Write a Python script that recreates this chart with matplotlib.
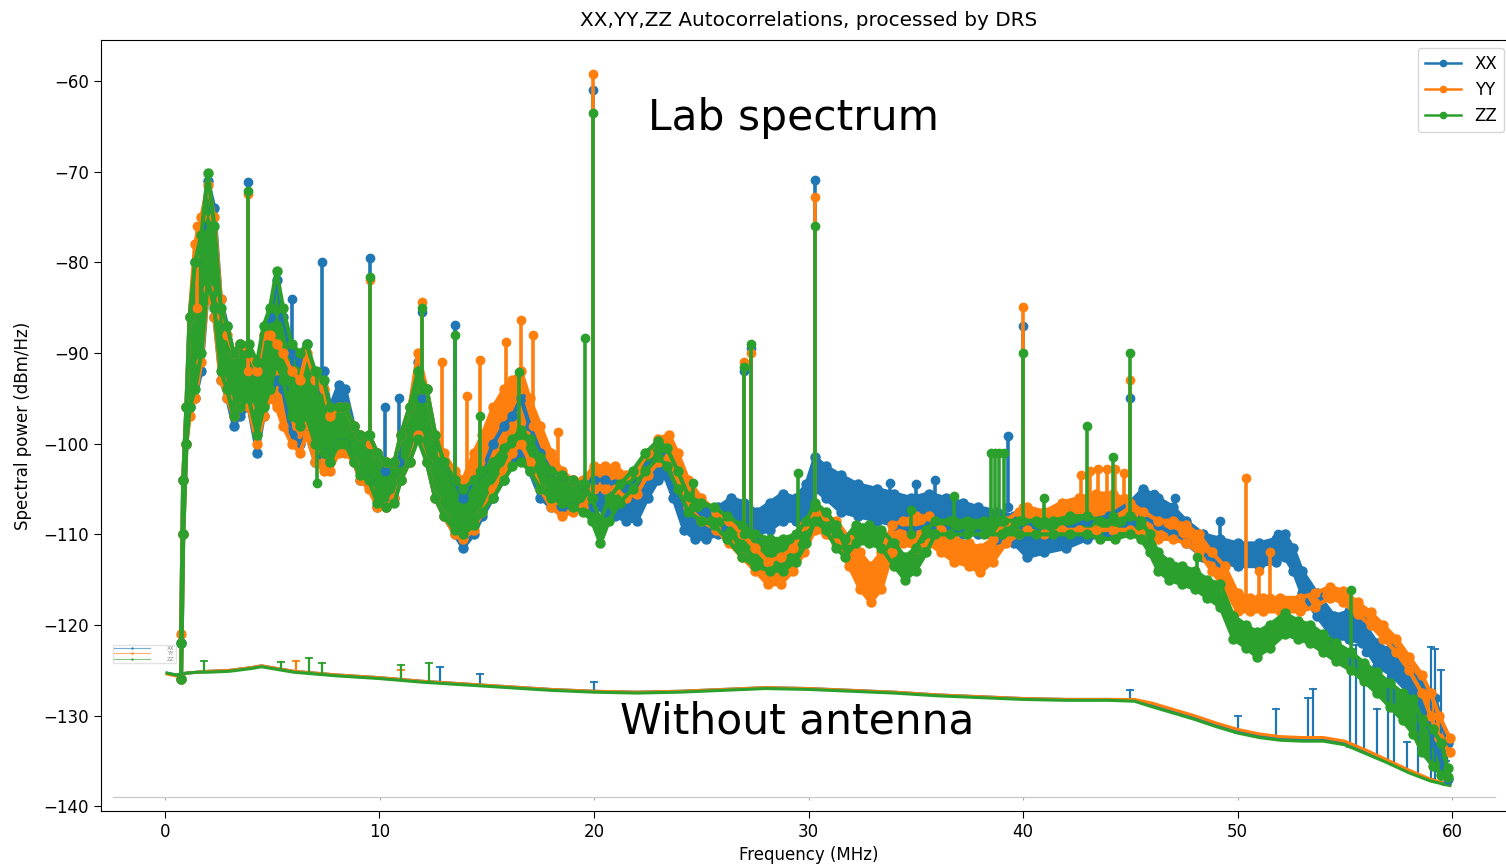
import numpy as np
import matplotlib
matplotlib.use("Agg")
import matplotlib.pyplot as plt
from matplotlib.lines import Line2D

labels = ['XX', 'YY', 'ZZ']
colors = ['#1f77b4', '#ff7f0e', '#2ca02c']

# lab spectrum, noise band per polarisation: freq (MHz), lower edge, upper edge (dBm/Hz)
xx_band = np.array([
    (0.75, -126, -122), (0.85, -110, -104), (1.0, -100, -96), (1.15, -96, -86),
    (1.4, -95, -80), (1.7, -92, -76), (2.0, -83, -71), (2.3, -86, -74),
    (2.6, -93, -84), (2.9, -95, -87), (3.2, -98, -90), (3.5, -97, -89),
    (3.9, -96, -90), (4.3, -101, -92), (4.6, -97, -88), (4.9, -95, -86),
    (5.2, -93, -82), (5.5, -94, -86), (5.9, -99, -90), (6.3, -100, -91),
    (6.6, -99, -89), (7.0, -102, -93), (7.4, -101, -92), (7.7, -102, -96),
    (8.1, -100, -93.5), (8.4, -100, -94), (8.8, -102, -98), (9.1, -104, -99),
    (9.5, -104, -99), (9.9, -107, -101), (10.3, -107, -102), (10.7, -106, -102),
    (11.0, -104, -99), (11.4, -102, -96), (11.8, -99, -91), (12.2, -102, -94),
    (12.6, -106, -99), (13.0, -108, -102), (13.5, -110, -104), (13.9, -111.5, -106),
    (14.4, -110, -104), (14.8, -108, -103), (15.3, -106, -100), (15.8, -104, -98),
    (16.2, -102, -97), (16.6, -101, -95), (17.0, -103, -98), (17.5, -106, -101),
    (18.0, -107, -103), (18.5, -107, -103.5), (19.0, -107, -104), (19.5, -107, -104.5),
    (20.0, -107, -104), (20.5, -107.5, -104), (21.0, -108, -104.5), (21.5, -108.5, -105),
    (22.0, -108.5, -104.5), (22.5, -106, -102.5), (23.0, -104, -101.5), (23.3, -103.5, -101.5),
    (23.7, -106, -103), (24.2, -109.5, -106), (24.7, -110.5, -108), (25.2, -110.5, -107.5),
    (25.8, -110, -107), (26.4, -108.5, -106), (27.0, -109.5, -106.5), (27.6, -110, -107.5),
    (28.2, -109.5, -106.5), (28.8, -108.5, -105.5), (29.4, -108.5, -106), (29.9, -108, -104.5),
    (30.3, -105, -101.5), (30.8, -106, -102.5), (31.5, -107.5, -103.5), (32.3, -108, -104.5),
    (33.2, -108.5, -105), (34.0, -109, -105.5), (34.8, -109.5, -106), (35.6, -109, -105.5),
    (36.4, -109.5, -106), (37.2, -110, -106.5), (37.9, -110, -107), (38.8, -110.5, -107.5),
    (39.6, -111, -108), (40.2, -112.5, -109), (41.0, -112, -110), (42.0, -111.5, -109.5),
    (43.0, -110.5, -108.5), (44.0, -110, -108), (45.0, -109, -106.5), (45.6, -108, -105),
    (46.3, -109, -106), (47.0, -110, -107), (47.6, -111, -108.5), (48.4, -112.5, -110),
    (49.2, -113, -110.5), (50.0, -113.5, -111), (51.0, -113.5, -111), (51.8, -113, -110.5),
    (52.2, -112.5, -110), (52.6, -114, -111.5), (53.0, -116.5, -114), (53.7, -119, -116.5),
    (54.5, -121.5, -119), (55.2, -121.5, -118.5), (55.8, -122, -119.5), (56.5, -124.5, -122),
    (57.2, -125.5, -123), (58.0, -127.5, -125), (58.6, -129.5, -126.5), (59.2, -133, -128),
    (59.8, -137, -133),
])
yy_band = np.array([
    (0.75, -126, -121), (0.85, -110, -104), (1.0, -100, -96), (1.15, -97, -86),
    (1.4, -95, -78), (1.7, -91, -75), (2.0, -83, -71.5), (2.3, -86, -75),
    (2.6, -93, -84), (2.9, -95, -88), (3.2, -97, -90), (3.5, -96, -89),
    (3.9, -96, -90), (4.3, -100, -92), (4.6, -97, -88), (4.9, -95, -88),
    (5.2, -96, -89), (5.5, -98, -90), (5.9, -100, -92), (6.3, -101, -93),
    (6.6, -99, -90), (7.0, -102, -93), (7.4, -103, -94), (7.7, -103, -97),
    (8.1, -101, -96), (8.4, -101, -96), (8.8, -102, -98), (9.1, -104, -99),
    (9.5, -105, -99), (9.9, -107, -101), (10.3, -107, -102), (10.7, -106, -102),
    (11.0, -104, -99), (11.4, -102, -96), (11.8, -99, -90), (12.2, -102, -94),
    (12.6, -106, -99), (13.0, -108, -101), (13.5, -110, -103), (13.9, -110.5, -104),
    (14.4, -109.5, -101), (14.8, -107.5, -99), (15.3, -105, -96), (15.8, -103, -94),
    (16.2, -101, -93), (16.6, -100, -92), (17.0, -102, -95), (17.5, -105, -98),
    (18.0, -107, -101), (18.5, -108, -103), (19.0, -107.5, -104), (19.5, -107, -104),
    (20.0, -105, -102.5), (20.5, -105, -102.5), (21.0, -105, -102.5), (21.5, -106, -103.5),
    (22.0, -105.5, -103), (22.5, -103.5, -101), (23.0, -102, -99.5), (23.5, -101.5, -99),
    (23.9, -104, -101), (24.4, -107, -104), (25.0, -108.5, -106), (25.7, -109.5, -107.5),
    (26.3, -111, -108.5), (26.9, -112.5, -110), (27.5, -114, -111.5), (28.1, -115.5, -113),
    (28.7, -115.5, -112.5), (29.3, -114, -111.5), (29.8, -112, -109), (30.3, -109.5, -107.5),
    (30.8, -110, -108), (31.3, -111, -108.5), (31.9, -113.5, -110.5), (32.4, -116, -112),
    (32.9, -117.5, -113.5), (33.4, -116, -112), (33.9, -112, -109), (34.4, -111, -108.5),
    (35.0, -111.5, -108), (35.6, -111, -108), (36.2, -112, -109.5), (36.8, -113, -110.5),
    (37.5, -113.5, -111), (38.0, -114.2, -111.5), (38.6, -113, -110.5), (39.2, -111, -108.5),
    (39.8, -110, -107.5), (40.2, -109.5, -107), (41.0, -110, -107.5), (41.8, -109.5, -106.5),
    (42.6, -109.5, -106), (43.4, -109.5, -105.5), (44.2, -109.5, -105.5), (45.0, -109.5, -106.5),
    (45.6, -110, -107.5), (46.3, -110.5, -108.5), (47.0, -110.5, -108.5), (47.6, -111, -109),
    (48.2, -112, -110), (48.8, -114, -112), (49.4, -116, -113.5), (50.0, -118.5, -116.5),
    (50.6, -118.5, -117), (51.2, -118.5, -117), (52.0, -118.5, -117), (52.9, -118.5, -117),
    (53.6, -118, -116.5), (54.3, -117, -115.8), (54.9, -117.5, -116.2), (55.6, -118.8, -117.5),
    (56.2, -120, -118.6), (56.8, -121.5, -120), (57.4, -123, -121.5), (58.0, -125, -123.5),
    (58.6, -127.5, -125.5), (59.0, -130, -127.5), (59.4, -132.5, -130), (59.9, -134, -132.5),
])
zz_band = np.array([
    (0.75, -126, -122), (0.85, -110, -104), (1.0, -100, -96), (1.15, -96, -86),
    (1.4, -94, -80), (1.7, -90, -77), (2.0, -82, -70.2), (2.3, -85, -76),
    (2.6, -92, -85), (2.9, -94, -87), (3.2, -97, -90), (3.5, -96, -89),
    (3.9, -95, -89), (4.3, -99, -91), (4.6, -96, -87), (4.9, -94, -85),
    (5.2, -91, -81), (5.5, -93, -85), (5.9, -97, -89), (6.3, -98, -90),
    (6.6, -97, -89), (7.0, -100, -92), (7.4, -101, -93), (7.7, -102, -96),
    (8.1, -100, -96), (8.4, -100, -96), (8.8, -102, -98), (9.1, -103.5, -99),
    (9.5, -104, -99), (9.9, -106.5, -101), (10.3, -107, -102), (10.7, -106.5, -102),
    (11.0, -104, -99), (11.4, -102, -96), (11.8, -99.5, -92), (12.2, -102, -94),
    (12.6, -106, -99), (13.0, -108, -102), (13.5, -109.5, -104), (13.9, -110, -105),
    (14.4, -109, -104), (14.8, -107.5, -103), (15.3, -106, -102), (15.8, -104, -100.5),
    (16.2, -102.5, -99.5), (16.6, -102, -98.5), (17.0, -103, -99.5), (17.5, -105, -101.5),
    (18.0, -106, -103), (18.5, -106.5, -103.5), (19.0, -107, -104), (19.5, -107.5, -104.5),
    (19.9, -108.5, -106), (20.3, -111, -108.5), (20.7, -108.5, -106), (21.2, -106.5, -104.5),
    (21.8, -105, -103), (22.4, -103, -101), (23.0, -101.5, -99.7), (23.4, -102.5, -100.5),
    (23.9, -105, -103), (24.4, -107.5, -105.8), (25.0, -108.5, -106.5), (25.6, -109, -107),
    (26.2, -110.5, -108), (26.9, -112.5, -109), (27.5, -113.5, -110), (28.2, -114, -110.5),
    (28.8, -114, -110.5), (29.4, -113, -110), (29.9, -111, -108.5), (30.3, -108.5, -106.5),
    (30.8, -109.5, -107.5), (31.3, -111.5, -109), (31.7, -112.5, -110.5), (32.2, -111, -109),
    (32.8, -111, -109), (33.4, -111.5, -109.5), (34.0, -113.5, -111), (34.5, -115, -112.5),
    (35.0, -114, -111.5), (35.5, -112, -109.5), (35.9, -110, -108.5), (36.6, -110, -108.5),
    (37.4, -110, -108.5), (38.2, -110, -108.5), (39.0, -110, -108.5), (39.8, -110, -108.5),
    (40.6, -110, -108.5), (41.4, -110, -108.5), (42.2, -110, -108), (43.0, -110, -108),
    (43.6, -110.5, -108.5), (44.3, -110.5, -108.5), (45.0, -110, -108), (45.5, -110.5, -108.5),
    (45.9, -112, -110), (46.3, -114, -112), (46.8, -115, -113), (47.4, -115.5, -113.5),
    (48.0, -116, -114), (48.6, -117, -115), (49.2, -118, -115.5), (49.8, -121.5, -119),
    (50.4, -122.5, -120), (50.9, -123.5, -120.8), (51.5, -122.5, -120), (52.2, -121, -118.7),
    (52.8, -121.5, -119.5), (53.4, -122, -120), (54.0, -123, -121), (54.6, -124, -122),
    (55.3, -125, -123), (55.9, -126.2, -124.2), (56.5, -127.5, -125.2), (57.1, -129, -126.4),
    (57.7, -130.5, -127.5), (58.2, -132, -128.2), (58.6, -134, -130.4), (59.1, -135.5, -131.5),
    (59.5, -136.5, -133), (59.8, -136.8, -135.8),
])

# narrow RFI lines: freq (MHz), level at the band, peak level
xx_spikes = [
    (3.87, -92, -71.2), (5.9, -92, -84.1), (7.3, -94, -80), (9.55, -100, -79.5),
    (10.26, -103, -96), (10.9, -102, -95), (12.0, -95, -85.5), (13.5, -104, -86.9),
    (19.95, -105, -61), (27.0, -108, -92), (27.3, -108, -89.5), (30.3, -104, -70.9),
    (33.8, -106, -104.3), (35.0, -106, -104.5), (35.9, -106, -104), (39.3, -107, -99.2),
    (40.0, -109, -87), (45.0, -108, -95), (46.1, -107, -105.5), (47.1, -108, -106),
    (49.2, -111, -108.5), (51.9, -112, -110), (56.0, -123, -121.3), (56.5, -124, -123.3),
    (57.1, -124.5, -122.5), (57.7, -126, -125.5),
]
yy_spikes = [
    (1.5, -85, -76), (3.87, -92, -72.5), (9.55, -100, -82), (12.0, -94, -84.4),
    (12.9, -101, -91), (14.1, -104, -94.8), (14.7, -102, -90.8), (15.9, -96, -88.8),
    (16.6, -94, -86.4), (17.15, -98, -88), (18.3, -103, -98.7), (19.95, -103, -59.3),
    (27.0, -110, -91), (27.3, -110, -90), (30.3, -107, -72.8), (40.0, -107, -84.9),
    (42.7, -106, -103.5), (43.1, -106, -103), (43.5, -106, -102.8), (43.9, -106, -102.8),
    (44.3, -106, -102.8), (44.7, -106, -103.2), (45.0, -107, -93), (50.4, -117, -103.8),
    (51.0, -117, -114), (51.5, -117, -112),
]
zz_spikes = [
    (3.87, -90, -72.2), (7.1, -92, -104.3), (9.55, -99, -81.6), (12.0, -94, -85),
    (13.5, -104, -88), (14.7, -103, -97), (16.5, -99, -92.1), (19.6, -104.5, -88.3),
    (19.95, -106, -63.5), (24.6, -107, -104.3), (27.0, -110, -91.5), (27.3, -110, -89),
    (29.5, -110, -103.2), (30.3, -107, -76), (34.8, -110, -107.3), (36.8, -108.5, -105.8),
    (38.5, -108.5, -101), (38.7, -108.5, -101), (38.9, -108.5, -101), (39.1, -108.5, -101),
    (40.0, -108.5, -90), (41.0, -108.5, -106), (43.0, -108, -98), (44.2, -108, -101.5),
    (45.0, -108, -90), (48.1, -114.5, -112.5), (55.3, -123, -116.1),
]

# spectrum without antenna connected
noant_freq = [0.1, 0.5, 1.0, 1.5, 2.0, 3.0, 4.0, 4.5, 5.0, 6.0, 8.0, 10, 12, 14, 16, 18,
              20, 22, 24, 26, 28, 30, 32, 34, 36, 38, 40, 42, 44, 45.2, 46.0, 47.0,
              48.0, 49.0, 50.0, 51.0, 52.0, 53.0, 54.0, 55.0, 56.0, 57.0, 58.0, 59.0, 59.9]
zz_noant = [-125.3, -125.5, -125.3, -125.2, -125.2, -125.1, -124.8, -124.6, -124.8, -125.2,
            -125.6, -125.9, -126.3, -126.6, -126.9, -127.2, -127.4, -127.5, -127.4, -127.2,
            -127.0, -127.1, -127.3, -127.5, -127.8, -128.0, -128.2, -128.3, -128.3, -128.4,
            -129.0, -129.7, -130.4, -131.2, -131.9, -132.4, -132.7, -132.8, -132.8, -133.2,
            -134.2, -135.2, -136.3, -137.2, -137.7]
yy_noant = [-125.4, -125.6, -125.3, -125.2, -125.1, -125.0, -124.7, -124.5, -124.7, -125.1,
            -125.5, -125.8, -126.2, -126.5, -126.8, -127.1, -127.3, -127.4, -127.3, -127.1,
            -126.9, -127.0, -127.2, -127.4, -127.7, -127.9, -128.1, -128.2, -128.2, -128.2,
            -128.6, -129.3, -130.0, -130.8, -131.5, -132.0, -132.3, -132.4, -132.4, -132.8,
            -133.8, -134.9, -136.0, -137.0, -137.6]
xx_noant = [-125.3, -125.5, -125.3, -125.2, -125.1, -125.0, -124.7, -124.5, -124.7, -125.1,
            -125.5, -125.8, -126.2, -126.5, -126.8, -127.1, -127.3, -127.4, -127.3, -127.1,
            -126.9, -127.0, -127.2, -127.4, -127.7, -127.9, -128.1, -128.2, -128.2, -128.3,
            -128.8, -129.5, -130.2, -131.0, -131.7, -132.2, -132.5, -132.6, -132.6, -133.0,
            -134.0, -135.0, -136.1, -137.1, -137.6]

xx_noant_spikes = [
    (12.8, -126.3, -124.6), (14.7, -126.6, -125.4), (20.0, -127.4, -126.3), (45.0, -128.3, -127.2),
    (50.0, -131.9, -130.0), (51.8, -132.4, -129.3), (53.3, -132.7, -128.0), (53.5, -132.7, -127.0),
    (55.25, -133.4, -122.7), (55.5, -133.6, -122.2), (55.9, -134.0, -126.0), (56.5, -134.6, -129.3),
    (57.0, -135.1, -122.7), (57.3, -135.4, -122.5), (57.9, -136.0, -132.9), (58.4, -136.5, -127.1),
    (59.0, -137.0, -122.4), (59.2, -137.2, -122.6), (59.5, -137.4, -125.0), (59.7, -137.5, -135.0),
]
yy_noant_spikes = [(6.1, -125.2, -124.0), (11.0, -126.1, -125.0)]
zz_noant_spikes = [
    (1.8, -125.2, -124.0), (5.4, -125.0, -124.1), (6.7, -125.3, -123.6), (7.3, -125.4, -124.2),
    (11.0, -126.1, -124.4), (12.3, -126.3, -124.2), (59.7, -137.6, -136.0),
]

W, H = 1506, 866
fig = plt.figure(figsize=(W / 100, H / 100), dpi=100)
ax = fig.add_axes([100.6 / W, 55 / H, 1415.8 / W, 771 / H])


def draw_band(band, spikes, c):
    f, lo, hi = band.T
    ax.fill_between(f, lo, hi, color=c, lw=0)
    ax.plot(f, lo, '.-', color=c, ms=13, lw=3)
    ax.plot(f, hi, '.-', color=c, ms=13, lw=3)
    for sf, base, peak in spikes:
        ax.plot([sf, sf], [base, peak], '.-', color=c, ms=12, lw=2.6)


def draw_noant(vals, spikes, c):
    ax.plot(noant_freq, vals, color=c, lw=2.2)
    for sf, base, peak in spikes:
        ax.plot([sf, sf], [base, peak], '_-', color=c, ms=6, mew=1.3, lw=1.6)


draw_noant(xx_noant, xx_noant_spikes, colors[0])
draw_noant(yy_noant, yy_noant_spikes, colors[1])
draw_noant(zz_noant, zz_noant_spikes, colors[2])

draw_band(xx_band, xx_spikes, colors[0])
draw_band(yy_band, yy_spikes, colors[1])
draw_band(zz_band, zz_spikes, colors[2])

ax.set_xlim(-3, 63)
ax.set_ylim(-140.5, -55.5)
ax.set_xticks(range(0, 61, 10))
ax.set_yticks(range(-140, -59, 10))
ax.tick_params(labelsize=12, length=5)
ax.spines['right'].set_visible(False)
ax.set_title('XX,YY,ZZ Autocorrelations, processed by DRS', fontsize=14.4, pad=10)
ax.set_xlabel('Frequency (MHz)', fontsize=12)
ax.set_ylabel('Spectral power (dBm/Hz)', fontsize=12, labelpad=8)

handles = [Line2D([], [], color=c, marker='.', ms=9, lw=1.8) for c in colors]
fig.legend(handles, labels, loc='upper left', bbox_to_anchor=(1418 / W, 1 - 48 / H),
           borderaxespad=0, fontsize=12, handlelength=2.2, edgecolor='#cccccc')

# faint axis line and legend of the no-antenna plot
ax2 = fig.add_axes([113 / W, (H - 797) / H, 1382 / W, 0.5])
ax2.patch.set_alpha(0)
for s in ['top', 'left', 'right']:
    ax2.spines[s].set_visible(False)
ax2.spines['bottom'].set_color('#c8c8c8')
ax2.spines['bottom'].set_linewidth(0.9)
ax2.set_xlim((113 - 165) / 21.45, (1495 - 165) / 21.45)
ax2.set_xticks(range(0, 61, 10))
ax2.set_yticks([])
ax2.tick_params(axis='x', length=2, color='#aaaaaa', labelbottom=False)
small = [Line2D([], [], color=c, marker='.', ms=2, lw=0.8, alpha=0.6) for c in colors]
leg2 = fig.legend(small, labels, loc='upper left', bbox_to_anchor=(113 / W, 1 - 645 / H),
                  borderaxespad=0, fontsize=4, handlelength=6.5, handletextpad=3,
                  labelspacing=0.05, borderpad=0.2, edgecolor='#dddddd')
for t in leg2.get_texts():
    t.set_color('#888888')

fig.text(648 / W, 1 - 118 / H, 'Lab spectrum', fontsize=30.5, va='center', ha='left')
fig.text(620 / W, 1 - 722 / H, 'Without antenna', fontsize=30.5, va='center', ha='left')

fig.savefig('out.png', dpi=100)
